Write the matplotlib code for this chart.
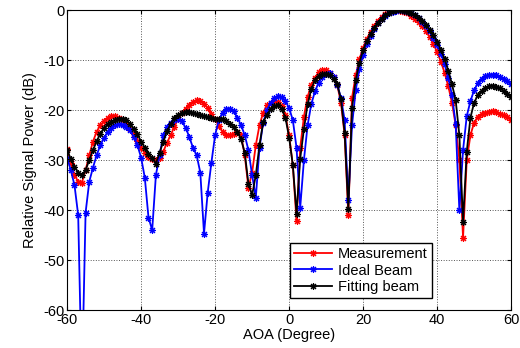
import matplotlib
matplotlib.use("Agg")
import matplotlib.pyplot as plt
import numpy as np

plt.rcParams['font.family'] = ['Liberation Sans', 'DejaVu Sans']
plt.rcParams['axes.unicode_minus'] = False

aoa = list(range(-60, 61))

measurement = [
    -27.7, -30.5, -33.0, -34.3, -34.5, -32.0, -29.0, -26.3, -24.3, -23.0,   # -60..-51
    -22.2, -21.5, -21.2, -21.2, -21.5, -21.9, -22.7, -23.7, -24.8, -26.2,   # -50..-41
    -27.5, -28.5, -29.3, -29.7, -29.9, -29.6, -28.3, -26.5, -25.0, -23.3,   # -40..-31
    -21.8, -20.6, -19.7, -19.0, -18.4, -18.0, -18.1, -18.7, -19.6, -20.7,   # -30..-21
    -21.8, -23.2, -24.3, -25.0, -25.0, -24.7, -24.3, -25.0, -29.0, -35.5,   # -20..-11
    -32.5, -27.0, -23.0, -20.5, -19.0, -18.5, -18.2, -18.3, -19.2, -21.0,   # -10..-1
    -25.0, -31.0, -42.2, -27.5, -21.3, -17.3, -15.0, -13.5, -12.4, -11.9,   # 0..9
    -11.9, -12.5, -13.3, -15.0, -18.5, -25.0, -41.0, -17.5, -13.0, -9.8,    # 10..19
    -7.5, -5.7, -4.3, -3.1, -2.1, -1.3, -0.7, -0.3, -0.1, 0.0,               # 20..29
    -0.1, -0.3, -0.6, -1.1, -1.7, -2.4, -3.2, -4.2, -5.4, -6.8,              # 30..39
    -8.4, -10.3, -12.5, -15.2, -18.5, -23.0, -30.0, -45.5, -30.0, -25.0,     # 40..49
    -22.5, -21.3, -20.8, -20.5, -20.3, -20.2, -20.4, -20.7, -21.0, -21.4,    # 50..59
    -21.9,                                                                   # 60
]

ideal = [
    -29.5, -32.0, -35.0, -41.0, -75.0, -40.5, -34.3, -31.5, -29.0, -27.0,   # -60..-51
    -25.5, -24.3, -23.5, -23.0, -22.8, -22.9, -23.3, -24.0, -25.3, -27.0,   # -50..-41
    -29.5, -33.5, -41.5, -44.0, -33.0, -29.0, -25.0, -23.3, -22.5, -21.9,   # -40..-31
    -21.7, -22.2, -23.5, -25.3, -27.5, -29.0, -32.5, -44.7, -36.5, -30.5,   # -30..-21
    -25.0, -22.0, -20.5, -19.8, -19.7, -20.2, -21.5, -23.0, -25.0, -28.0,   # -20..-11
    -33.0, -37.5, -27.5, -22.5, -20.0, -18.5, -17.5, -17.2, -17.4, -18.2,   # -10..-1
    -19.6, -22.0, -27.5, -39.5, -30.0, -23.0, -18.8, -16.2, -14.5, -13.3,   # 0..9
    -12.7, -12.6, -13.3, -15.0, -17.5, -22.0, -38.0, -23.0, -16.0, -11.8,   # 10..19
    -8.9, -6.8, -5.1, -3.7, -2.6, -1.8, -1.1, -0.6, -0.3, -0.1,              # 20..29
    0.0, -0.1, -0.3, -0.6, -1.0, -1.6, -2.3, -3.2, -4.2, -5.5,               # 30..39
    -7.0, -8.7, -10.8, -13.5, -17.0, -22.7, -40.0, -28.0, -21.2, -18.2,      # 40..49
    -16.0, -14.6, -13.7, -13.2, -13.0, -12.9, -13.0, -13.3, -13.7, -14.2,    # 50..59
    -14.8,                                                                   # 60
]

fitting = [
    -27.9, -29.8, -31.3, -32.5, -33.0, -32.0, -30.0, -28.0, -26.2, -24.7,   # -60..-51
    -23.6, -22.8, -22.3, -21.9, -21.7, -21.7, -22.0, -22.7, -23.7, -24.8,   # -50..-41
    -26.3, -27.5, -28.7, -29.6, -30.7, -28.5, -26.3, -24.2, -22.8, -21.6,   # -40..-31
    -21.0, -20.6, -20.4, -20.3, -20.5, -20.8, -21.0, -21.2, -21.4, -21.6,   # -30..-21
    -21.7, -21.7, -21.8, -22.2, -22.8, -23.3, -24.3, -25.8, -28.5, -34.7,   # -20..-11
    -37.0, -33.0, -27.0, -22.3, -21.0, -19.8, -19.2, -19.0, -19.8, -21.5,   # -10..-1
    -25.5, -31.0, -40.7, -29.7, -23.8, -18.8, -15.8, -14.0, -13.2, -12.8,   # 0..9
    -12.7, -13.0, -13.8, -14.8, -17.8, -24.5, -39.7, -19.5, -14.0, -10.5,   # 10..19
    -8.0, -6.2, -4.7, -3.5, -2.5, -1.7, -1.0, -0.5, -0.2, 0.0,               # 20..29
    0.0, -0.1, -0.3, -0.6, -1.0, -1.5, -2.1, -2.9, -3.9, -5.0,               # 30..39
    -6.3, -7.9, -9.7, -12.1, -14.8, -18.0, -25.0, -42.3, -28.3, -21.5,      # 40..49
    -18.5, -17.0, -16.2, -15.6, -15.2, -15.1, -15.3, -15.6, -16.2, -16.8,    # 50..59
    -17.3,                                                                   # 60
]

xticks = [-60, -40, -20, 0, 20, 40, 60]
yticks = [0, -10, -20, -30, -40, -50, -60]

fig = plt.figure(figsize=(5.2, 3.48), dpi=100)
ax = fig.add_axes([0.129, 0.109, 0.854, 0.862])

star = (8, 2, 0)
ax.plot(aoa, measurement, color='red', lw=1.3, marker=star, ms=5, mew=0.8, label='Measurement')
ax.plot(aoa, ideal, color='blue', lw=1.3, marker=star, ms=5, mew=0.8, label='Ideal Beam')
ax.plot(aoa, fitting, color='black', lw=1.3, marker=star, ms=5, mew=0.8, label='Fitting beam')

ax.set_xlim(-60, 60)
ax.set_ylim(-60, 0)
ax.set_xticks(xticks)
ax.set_yticks(yticks)
ax.tick_params(direction='in', length=3, labelsize=10.5, top=True, right=True, pad=2)
ax.grid(True, color='#555555', linestyle=':', linewidth=0.7)
for s in ax.spines.values():
    s.set_linewidth(0.8)
ax.set_xlabel('AOA (Degree)', fontsize=10.5, labelpad=1)
ax.set_ylabel('Relative Signal Power (dB)', fontsize=10.5, labelpad=4)

leg = ax.legend(loc='lower left', bbox_to_anchor=(0.502, 0.04), fontsize=10.5,
                fancybox=False, edgecolor='black', framealpha=1,
                borderpad=0.3, labelspacing=0.15, handlelength=2.6,
                handletextpad=0.4, borderaxespad=0)
leg.get_frame().set_linewidth(1.0)

fig.savefig('out.png', dpi=100)
